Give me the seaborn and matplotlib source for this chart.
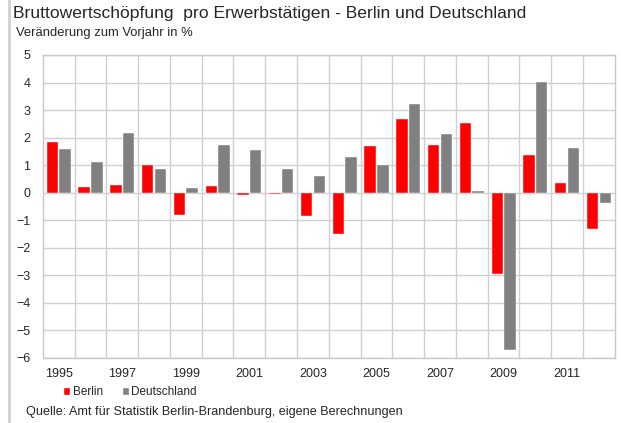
import numpy as np
import pandas as pd
import matplotlib
matplotlib.use("Agg")
import matplotlib.pyplot as plt
from matplotlib.lines import Line2D
from matplotlib.patches import Patch
import seaborn as sns

# ─────────────────────────────────────────────
# Data (Veränderung zum Vorjahr in %)
# ─────────────────────────────────────────────
years       = list(range(1995, 2013))
berlin      = [1.85, 0.20, 0.29, 0.99, -0.82, 0.25, -0.08, -0.05, -0.85,
               -1.50, 1.68, 2.66, 1.72, 2.53, -2.94, 1.36, 0.34, -1.32]
deutschland = [1.60, 1.10, 2.18, 0.86, 0.17, 1.72, 1.56, 0.86, 0.62,
               1.31, 0.99, 3.23, 2.13, 0.05, -5.71, 4.02, 1.61, -0.37]
series      = ["Berlin", "Deutschland"]
colors      = ["#ff0000", "#808080"]

df = pd.DataFrame({
    "Jahr":  [str(y) for y in years] * 2,
    "Wert":  berlin + deutschland,
    "Reihe": [series[0]] * len(years) + [series[1]] * len(years),
})

# ─────────────────────────────────────────────
# Plot
# ─────────────────────────────────────────────
sns.set_style("white")
plt.rcParams["font.family"] = ["Liberation Sans", "DejaVu Sans"]

fig = plt.figure(figsize=(6.21, 4.23), dpi=100)
ax = fig.add_axes([0.069, 0.154, 0.921, 0.716])

sns.barplot(data=df, x="Jahr", y="Wert", hue="Reihe", palette=colors,
            saturation=1, width=0.8, gap=0.1, ax=ax, legend=False,
            edgecolor="#ffffff", linewidth=0.3)

ax.set_ylim(-6, 5)
ax.set_xlim(-0.5, len(years) - 0.5)
ax.set_yticks(range(-6, 6))
ax.set_xticks(range(0, len(years), 2))
ax.set_xticklabels([str(y) for y in years[::2]], fontsize=9)
ax.set_xticks(np.arange(0.5, len(years) - 0.5, 1), minor=True)
ax.tick_params(axis="y", labelsize=9, length=0, pad=9)
ax.tick_params(axis="x", which="both", length=0, pad=7)
for lab in ax.get_yticklabels():
    lab.set_horizontalalignment("right")

ax.grid(True, axis="y", color="#d0d0d0", linewidth=1)
ax.grid(True, axis="x", which="minor", color="#d0d0d0", linewidth=1)
ax.grid(False, axis="x", which="major")
ax.set_axisbelow(True)
for s in ax.spines.values():
    s.set_color("#c8c8c8")
    s.set_linewidth(1)
ax.set_xlabel("")
ax.set_ylabel("")

# Titles
fig.text(0.021, 0.967, "Bruttowertschöpfung  pro Erwerbstätigen - Berlin und Deutschland",
         fontsize=12.6, ha="left", va="center")
fig.text(0.026, 0.922, "Veränderung zum Vorjahr in %", fontsize=9.4,
         ha="left", va="center")

# Legend
handles = [Patch(facecolor=c, label=s) for c, s in zip(colors, series)]
fig.legend(handles=handles, loc="center left", bbox_to_anchor=(0.085, 0.073),
           ncol=2, frameon=False, fontsize=8.5, handlelength=0.6,
           handleheight=0.6, handletextpad=0.2, columnspacing=1.6)

fig.text(0.042, 0.026, "Quelle: Amt für Statistik Berlin-Brandenburg, eigene Berechnungen",
         fontsize=9.1, ha="left", va="center")

# linker Rahmen
fig.add_artist(Line2D([0.0145, 0.0145], [0, 1], color="#d0d0d0", linewidth=2,
                      transform=fig.transFigure))

plt.savefig("out.png", dpi=100)
